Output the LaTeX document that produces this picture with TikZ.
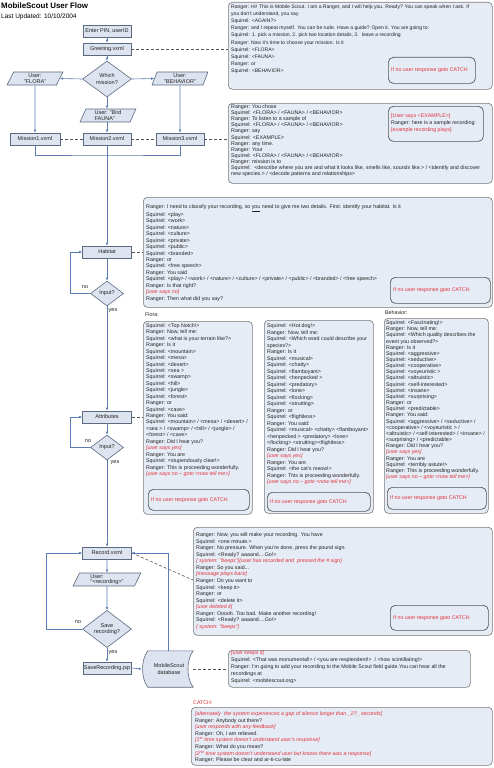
\documentclass[tikz,border=0pt]{standalone}
\usepackage{fontspec}
\setmainfont{Liberation Sans}
\usetikzlibrary{arrows.meta,shapes.geometric}
\definecolor{fboxfill}{HTML}{DDE4EF}
\definecolor{fboxdraw}{HTML}{5C6A80}
\definecolor{tboxfill}{HTML}{E6ECF5}
\definecolor{tboxdraw}{HTML}{7A7A7A}
\definecolor{ibox}{HTML}{555555}
\definecolor{lnblue}{HTML}{5A7DB5}
\definecolor{redtxt}{HTML}{E0303A}
\definecolor{txt}{HTML}{222222}
\definecolor{dgray}{HTML}{555555}
\newcommand\rd[1]{{\color{redtxt}\itshape #1}}
\newcommand\rn[1]{{\color{redtxt}#1}}
\newcommand\fs[1]{\fontsize{5.3}{#1}\selectfont}
\newcommand\ff[1]{\fontsize{5.5}{#1}\selectfont}
\tikzset{
  fbox/.style={draw=fboxdraw, fill=fboxfill, line width=0.6pt, inner sep=0pt, minimum width=48pt, minimum height=12pt, font=\ff{6}, text=txt},
  fdia/.style={diamond, draw=fboxdraw, fill=fboxfill, line width=0.6pt, inner sep=0pt, font=\ff{6.2}, align=center, text=txt},
  fpar/.style={trapezium, trapezium left angle=70, trapezium right angle=110, trapezium stretches=true, draw=fboxdraw, fill=fboxfill, line width=0.6pt, inner sep=0pt, minimum width=56pt, minimum height=13pt, font=\ff{5.6}, text=txt},
  tbox/.style={draw=tboxdraw, fill=tboxfill, line width=0.6pt, rounded corners=4pt, anchor=north west, inner sep=0pt},
  ibx/.style={draw=ibox, fill=tboxfill, line width=0.7pt, rounded corners=5pt, anchor=north west, inner sep=0pt},
  ttext/.style={anchor=north west, inner sep=0pt, align=left, text=txt},
  flow/.style={draw=lnblue, line width=0.6pt, -{Latex[length=3pt,width=2.6pt]}},
  ln/.style={draw=lnblue, line width=0.6pt},
  dashln/.style={draw=dgray, line width=0.6pt, dash pattern=on 3pt off 2pt},
  lbl/.style={inner sep=0pt, font=\ff{6}, text=txt}
}
\begin{document}
\begin{tikzpicture}[x=1pt,y=-1pt]
\useasboundingbox[fill=white] (0,0) rectangle (494,768);

% title
\node[anchor=west, inner sep=0pt, font=\bfseries\fontsize{7.9}{9}\selectfont] (title) at (1,6) {MobileScout User Flow};
\node[anchor=west, inner sep=0pt, font=\fontsize{6.5}{7}\selectfont] (upd) at (1,17) {Last Updated: 10/10/2004};

% ---------- right-hand text boxes ----------
\node[tbox, minimum width=264pt, minimum height=87pt] (b1) at (228,2) {};
\node[ibx, minimum width=87pt, minimum height=26pt] (i1) at (388,57) {};
\node[ttext, font=\fontsize{5.05}{7.15}\selectfont] (t1) at (231,4.5) {Ranger: Hi! This is Mobile Scout. I am a Ranger, and I will help you. Ready? You can speak when I ask. If\\
you don't understand, you say\\
Squirrel: <AGAIN?>\\
Ranger: and I repeat myself. You can be rude. Have a guide? Open it. You are going to:\\
Squirrel: 1. pick a mission, 2. pick two location details, 3.~ leave a recording\\
Ranger: Now it's time to choose your mission. Is it\\
Squirrel: <FLORA>\\
Squirrel: <FAUNA>\\
Ranger: or\\
Squirrel: <BEHAVIOR>};
\node[anchor=west, inner sep=0pt, font=\fs{6}] (c1) at ([xshift=3pt]i1.west) {\rn{If no user response goto CATCH}};

\node[tbox, minimum width=264pt, minimum height=80pt] (b2) at (228,103) {};
\node[ibx, minimum width=95pt, minimum height=35pt] (i2) at (388,106) {};
\node[ttext, font=\fs{6.1}] (t2) at (231,104.5) {Ranger: You chose\\
Squirrel: <FLORA> / <FAUNA> / <BEHAVIOR>\\
Ranger: To listen to a sample of\\
Squirrel: <FLORA> / <FAUNA> / <BEHAVIOR>\\
Ranger: say\\
Squirrel: <EXAMPLE>\\
Ranger: any time.\\
Ranger: Your\\
Squirrel: <FLORA> / <FAUNA> / <BEHAVIOR>\\
Ranger: mission is to\\
Squirrel:~ <describe where you are and what it looks like, smells like, sounds like.> / <identify and discover\\
new species.> / <decode patterns and relationships>};
\node[ttext, font=\fs{7}] (c2) at (391,113.5) {\rn{[User says <EXAMPLE>]}\\
Ranger: here is a sample recording:\\
\rn{[example recording plays]}};

\node[tbox, minimum width=349pt, minimum height=110pt] (b3) at (143,197) {};
\node[ibx, minimum width=100pt, minimum height=26pt] (i3) at (390,277) {};
\node[ttext, font=\fs{6.43}] (t3) at (146,204.5) {Ranger: I need to classify your recording, so \underline{you} need to give me two details. First: identify your habitat. Is it\\
Squirrel: <play>\\
Squirrel: <work>\\
Squirrel: <nature>\\
Squirrel: <culture>\\
Squirrel: <private>\\
Squirrel: <public>\\
Squirrel: <branded>\\
Ranger: or\\
Squirrel: <free speech>\\
Ranger: You said\\
Squirrel: <play> / <work> / <nature> / <culture> / <private> / <public> / <branded> / <free speech>\\
Ranger: Is that right?\\
\rd{[user says no]}\\
Ranger: Then what did you say?};
\node[anchor=west, inner sep=0pt, font=\fs{6}] (c3) at ([xshift=3pt]i3.west) {\rn{If no user response goto CATCH}};

% three columns
\node[anchor=west, inner sep=0pt, font=\fs{6}, text=txt] (flab) at (145,315) {Flora:};
\node[anchor=west, inner sep=0pt, font=\fs{6}, text=txt] (blab) at (385,313) {Behavior:};

\node[tbox, minimum width=109pt, minimum height=193pt] (flbox) at (143,321) {};
\node[ibx, minimum width=101pt, minimum height=21pt] (i4) at (148,489) {};
\node[ttext, font=\fs{6.43}] (t4) at (146,323.5) {Squirrel: <Top Notch!>\\
Ranger: Now, tell me:\\
Squirrel: <what is your terrain like?>\\
Ranger: Is it\\
Squirrel: <mountain>\\
Squirrel: <mesa>\\
Squirrel: <desert>\\
Squirrel: <sea >\\
Squirrel: <swamp>\\
Squirrel: <hill>\\
Squirrel: <jungle>\\
Squirrel: <forest>\\
Ranger: or\\
Squirrel: <cave>\\
Ranger: You said:\\
Squirrel: <mountain> / <mesa> / <desert> /\\
<sea > / <swamp> / <hill> / <jungle> /\\
<forest> / <cave>\\
Ranger: Did I hear you?\\
\rd{[user says yes]}\\
Ranger: You are\\
Squirrel: <stupendously clear!>\\
Ranger: This is proceeding wonderfully.\\
\rd{[user says no -- goto <now tell me>]}};
\node[anchor=west, inner sep=0pt, font=\fs{6}] (c4) at ([xshift=3pt]i4.west) {\rn{If no user response goto CATCH}};

\node[tbox, minimum width=109pt, minimum height=193pt] (fabox) at (264,320) {};
\node[ibx, minimum width=103pt, minimum height=19pt] (i5) at (267,492) {};
\node[ttext, font=\fs{6.5}] (t5) at (267,323.5) {Squirrel: <Hot dog!>\\
Ranger: Now, tell me:\\
Squirrel: <Which word could describe your\\
species?>\\
Ranger: Is it\\
Squirrel: <musical>\\
Squirrel: <chatty>\\
Squirrel: <flamboyant>\\
Squirrel: <henpecked >\\
Squirrel: <predatory>\\
Squirrel: <lone>\\
Squirrel: <flocking>\\
Squirrel: <strutting>\\
Ranger: or\\
Squirrel: <flightless>\\
Ranger: You said:\\
Squirrel: <musical> <chatty> <flamboyant>\\
<henpecked > <predatory> <lone>\\
<flocking> <strutting><flightless>\\
Ranger: Did I hear you?\\
\rd{[user says yes]}\\
Ranger: You are\\
Squirrel: <the cat's meow!>\\
Ranger: This is proceeding wonderfully.\\
\rd{[user says no -- goto <now tell me>]}};
\node[anchor=west, inner sep=0pt, font=\fs{6}] (c5) at ([xshift=3pt]i5.west) {\rn{If no user response goto CATCH}};

\node[tbox, minimum width=104pt, minimum height=195pt] (bebox) at (384,318) {};
\node[ibx, minimum width=99pt, minimum height=22pt] (i6) at (387,487) {};
\node[ttext, font=\fs{6.16}] (t6) at (386,320.5) {Squirrel: <Fascinating!>\\
Ranger: Now, tell me:\\
Squirrel: <Which quality describes the\\
event you observed?>\\
Ranger: Is it\\
Squirrel: <aggressive>\\
Squirrel: <seductive>\\
Squirrel: <cooperative>\\
Squirrel: <voyeuristic >\\
Squirrel: <altruistic>\\
Squirrel: <self-interested>\\
Squirrel: <insane>\\
Squirrel: <surprising>\\
Ranger: or\\
Squirrel: <predictable>\\
Ranger: You said:\\
Squirrel: <aggressive> / <seductive> /\\
<cooperative> / <voyeuristic > /\\
<altruistic> / <self-interested> / <insane> /\\
<surprising> / <predictable>\\
Ranger: Did I hear you?\\
\rd{[user says yes]}\\
Ranger: You are\\
Squirrel: <terribly astute!>\\
Ranger: This is proceeding wonderfully.\\
\rd{[user says no -- goto <now tell me>]}};
\node[anchor=west, inner sep=0pt, font=\fs{6}] (c6) at ([xshift=3pt]i6.west) {\rn{If no user response goto CATCH}};

% record box
\node[tbox, minimum width=299pt, minimum height=108pt] (rec) at (193,527) {};
\node[ibx, minimum width=98pt, minimum height=25pt] (i7) at (390,605) {};
\node[ttext, font=\fs{6.57}] (t7) at (196,532.5) {Ranger: Now, you will make your recording. You have\\
Squirrel: <one minute.>\\
Ranger: No pressure. When you're done, press the pound sign.\\
Squirrel: <Ready? aaaand....Go!>\\
\rd{( system: "beeps")(user has recorded and~ pressed the \# sign)}\\
Ranger: So you said...\\
\rd{[message plays back]}\\
Ranger: Do you want to\\
Squirrel: <keep it>\\
Ranger: or\\
Squirrel: <delete it>\\
\rd{[user deleted it]}\\
Ranger: Ooooh. Too bad. Make another recording!\\
Squirrel: <Ready? aaaand....Go!>\\
\rd{( system: "beeps")}};
\node[anchor=west, inner sep=0pt, font=\fs{6}] (c7) at ([xshift=3pt]i7.west) {\rn{If no user response goto CATCH}};

% keeps box
\node[tbox, minimum width=242pt, minimum height=37pt] (keep) at (228,650) {};
\node[ttext, font=\fs{7}] (t8) at (231,650.5) {\rd{[user keeps it]}\\
Squirrel: <That was monumental!> / <you are resplendent!>~ / <how scintillating!>\\
Ranger: I'm going to add your recording to the Mobile Scout field guide.You can hear all the\\
recordings at\\
Squirrel: <mobilescout.org>};

% catch
\node[anchor=west, inner sep=0pt, font=\fs{6}] (clab) at (193,703) {\rn{CATCH:}};
\node[tbox, minimum width=301pt, minimum height=58pt] (catch) at (191,707) {};
\node[ttext, font=\fs{6.6}] (t9) at (195,711.5) {\rd{[alternately~ the system experiences a gap of silence longer than \_2?\_ seconds]}\\
Ranger: Anybody out there?\\
\rd{[user responds with any feedback]}\\
Ranger: Oh, I am relieved.\\
\rd{[1\textsuperscript{st} time system doesn't understand user's response]}\\
Ranger: What do you mean?\\
\rd{[2\textsuperscript{nd} time system doesn't understand user but knows there was a response]}\\
Ranger: Please be clear and ar-ti-cu-late};

% ---------- flowchart ----------
\node[fbox] (pin) at (107,31) {Enter PIN, userID};
\node[fbox] (greet) at (107,49) {Greeting.vxml};
\node[fdia, minimum width=49pt, minimum height=36pt] (which) at (107,79) {Which\\mission?};
\node[fpar, align=center] (flora) at (35,78.5) {User:\\"FLORA"};
\node[fpar, align=center] (behav) at (180,78.5) {User:\\"BEHAVIOR"};
\node[fpar, align=left] (fauna) at (108,115.5) {User: "Bird\\FAUNA"};
\node[fbox, minimum width=50pt] (m1) at (35,139) {Mission1.vxml};
\node[fbox] (m2) at (107,139) {Mission2.vxml};
\node[fbox] (m3) at (180,139) {Mission3.vxml};
\node[fbox, minimum width=49pt] (hab) at (107,252) {Habitat};
\node[fdia, minimum width=33pt, minimum height=25pt] (in1) at (107,293.5) {Input?};
\node[fbox, minimum width=49pt] (attr) at (107,417) {Attributes};
\node[fdia, minimum width=33pt, minimum height=25pt] (in2) at (107,447.5) {Input?};
\node[fbox, minimum width=49pt] (recv) at (107,553) {Record.vxml};
\node[fpar, minimum width=68pt, align=left] (urec) at (107,579.5) {User:\\ "<recording>"};
\node[fdia, minimum width=49pt, minimum height=36pt] (save) at (107,629) {Save\\recording?};
\node[fbox] (sjsp) at (107,668) {SaveRecording.jsp};
\node[inner sep=0pt, minimum width=50pt, minimum height=36pt] (db) at (168,669) {};
\draw[draw=fboxdraw, fill=fboxfill, line width=0.6pt]
  ([xshift=5pt]db.north west) -- (db.north east)
  .. controls ([xshift=-7pt,yshift=-9pt]db.north east) and ([xshift=-7pt,yshift=9pt]db.south east) .. (db.south east)
  -- ([xshift=5pt]db.south west)
  .. controls ([xshift=-2pt,yshift=9pt]db.south west) and ([xshift=-2pt,yshift=-9pt]db.north west) .. ([xshift=5pt]db.north west) -- cycle;
\node[inner sep=0pt, align=center, font=\ff{6.2}, text=txt] (dbt) at ([xshift=1pt]db.center) {MobileScout\\database};

% connectors
\coordinate (j1) at (107,155);
\coordinate (recpt) at (193,580);
\draw[flow] (pin) -- (greet);
\draw[flow] (greet) -- (which);
\draw[flow] (which.west) -- (flora.east);
\draw[flow] (which.east) -- (behav.west);
\draw[flow] (which.south) -- (which.south |- fauna.north);
\draw[flow] (flora.south) -- (m1.north);
\draw[flow] (fauna.south -| m2) -- (m2.north);
\draw[flow] (behav.south) -- (m3.north);
\draw[dashln] (greet.east) -- (greet -| b1.west);
\draw[dashln] (m1) -- (m2);
\draw[dashln] (m2) -- (m3);
\draw[dashln] (m3.east) -- (m3 -| b2.west);
\draw[ln] (m1.south) |- (j1) -| (m3.south);
\draw[ln] (m2.south) -- (j1);
\draw[flow] (j1) -- (hab.north);
\draw[dashln] (hab.east) -- (hab -| b3.west);
\draw[flow] (hab) -- (in1);
\draw[flow] (in1.west) -- ++(-20,0) |- (hab.west);
\draw[flow] (in1) -- (attr);
\draw[dashln] (attr.east) -- (attr -| flbox.west);
\draw[flow] (attr) -- (in2);
\draw[flow] (in2.west) -- ++(-20,0) |- (attr.west);
\draw[flow] (in2) -- (recv);
\draw[dashln] (recv.east) -- (recpt);
\draw[flow] (recv) -- (urec);
\draw[flow] (urec) -- (save);
\draw[flow] (save.west) -- ++(-36,0) |- (recv.west);
\draw[flow] (save) -- (sjsp);
\draw[flow] (sjsp.east) -- ([xshift=-1pt]db.west);
\draw[flow] (db.north) |- (recv.east);
\draw[dashln] (db.east) -- (db.east -| keep.west);

% labels
\node[lbl] (no1) at (85,287) {no};
\node[lbl] (yes1) at (113,311) {yes};
\node[lbl] (no2) at (88,441) {no};
\node[lbl] (yes2) at (115,463) {yes};
\node[lbl] (no3) at (78,622) {no};
\node[lbl] (yes3) at (113,653) {yes};
\end{tikzpicture}
\end{document}
